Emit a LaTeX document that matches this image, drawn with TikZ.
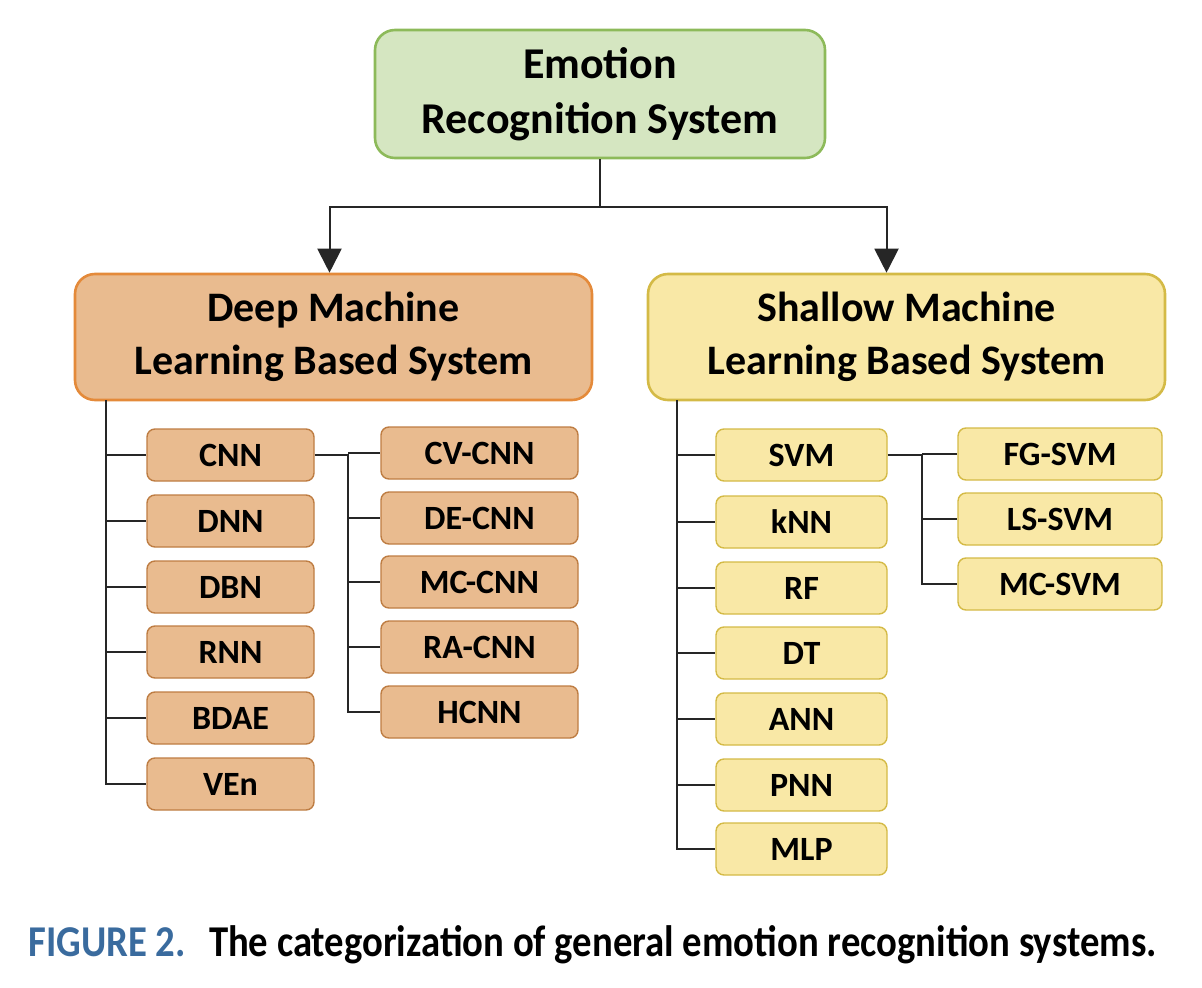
\documentclass[tikz,border=0pt]{standalone}
\usepackage{fontspec}
\setmainfont{Carlito}
\usetikzlibrary{arrows.meta}
\definecolor{rootfill}{RGB}{213,230,193}
\definecolor{rootline}{RGB}{141,186,90}
\definecolor{deepfill}{RGB}{233,187,143}
\definecolor{deepline}{RGB}{228,138,58}
\definecolor{shallowfill}{RGB}{249,232,166}
\definecolor{shallowline}{RGB}{212,186,70}
\definecolor{figblue}{RGB}{58,107,158}
\tikzset{
	rootbox/.style={draw=rootline, fill=rootfill, line width=1.3pt, rounded corners=10pt, align=center, minimum width=225pt, minimum height=64pt, inner sep=0pt, font=\bfseries\fontsize{22}{27.5}\selectfont},
	deepbox/.style={draw=deepline, fill=deepfill, line width=1.3pt, rounded corners=10pt, align=center, minimum width=258.5pt, minimum height=63pt, inner sep=0pt, font=\bfseries\fontsize{21}{26.5}\selectfont},
	shallowbox/.style={deepbox, draw=shallowline, fill=shallowfill},
	deepitem/.style={draw=deepline!80!black!90, fill=deepfill, line width=0.7pt, rounded corners=4pt, minimum width=83.5pt, minimum height=26pt, inner sep=0pt, font=\bfseries\fontsize{17}{20}\selectfont},
	deepsub/.style={deepitem, minimum width=98.5pt},
	shallowitem/.style={deepitem, draw=shallowline, fill=shallowfill, minimum width=85.5pt},
	shallowsub/.style={shallowitem, minimum width=102pt},
	link/.style={draw=black!85, line width=1pt},
	arrow/.style={link, -{Triangle[width=12pt,length=12pt]}}
}
\begin{document}
\begin{tikzpicture}[x=0.5pt, y=-0.5pt]
	\useasboundingbox (0,0) rectangle (1202,988);
	\node [rootbox] (root) at (600,94) {Emotion \\ Recognition System};
	\node [deepbox] (deep) at (333.5,337) {Deep Machine \\ Learning Based System};
	\node [shallowbox] (shallow) at (906.5,337) {Shallow Machine \\ Learning Based System};

	\node [deepitem] (cnn) at (230.5,455) {CNN};
	\node [deepitem] (dnn) at (230.5,521) {DNN};
	\node [deepitem] (dbn) at (230.5,587) {DBN};
	\node [deepitem] (rnn) at (230.5,652) {RNN};
	\node [deepitem] (bdae) at (230.5,718) {BDAE};
	\node [deepitem] (ven) at (230.5,784) {VEn};

	\node [deepsub] (cvcnn) at (479.5,453) {CV-CNN};
	\node [deepsub] (decnn) at (479.5,518) {DE-CNN};
	\node [deepsub] (mccnn) at (479.5,582) {MC-CNN};
	\node [deepsub] (racnn) at (479.5,647) {RA-CNN};
	\node [deepsub] (hcnn) at (479.5,712) {HCNN};

	\node [shallowitem] (svm) at (801.5,455) {SVM};
	\node [shallowitem] (knn) at (801.5,522) {kNN};
	\node [shallowitem] (rf) at (801.5,588) {RF};
	\node [shallowitem] (dt) at (801.5,653) {DT};
	\node [shallowitem] (ann) at (801.5,719) {ANN};
	\node [shallowitem] (pnn) at (801.5,785) {PNN};
	\node [shallowitem] (mlp) at (801.5,849) {MLP};

	\node [shallowsub] (fgsvm) at (1060,454) {FG-SVM};
	\node [shallowsub] (lssvm) at (1060,519) {LS-SVM};
	\node [shallowsub] (mcsvm) at (1060,584) {MC-SVM};

	\draw [link] (root.south) -- (600,207) coordinate (fork);
	\draw [arrow] (fork) -| ([xshift=-2pt]deep.north);
	\draw [arrow] (fork) -| ([xshift=-10pt]shallow.north);

	\coordinate (deeptrunk) at (106,400);
	\draw [link] (deeptrunk) |- (ven.west);
	\draw [link] (deeptrunk |- cnn.west) -- (cnn.west);
	\draw [link] (deeptrunk |- dnn.west) -- (dnn.west);
	\draw [link] (deeptrunk |- dbn.west) -- (dbn.west);
	\draw [link] (deeptrunk |- rnn.west) -- (rnn.west);
	\draw [link] (deeptrunk |- bdae.west) -- (bdae.west);

	\coordinate (cnnbus) at (348,455);
	\draw [link] (cnn.east) -- (cnnbus) |- (hcnn.west);
	\draw [link] (cnnbus |- cvcnn.west) -- (cvcnn.west);
	\draw [link] (cnnbus |- decnn.west) -- (decnn.west);
	\draw [link] (cnnbus |- mccnn.west) -- (mccnn.west);
	\draw [link] (cnnbus |- racnn.west) -- (racnn.west);

	\coordinate (shallowtrunk) at (677,400);
	\draw [link] (shallowtrunk) |- (mlp.west);
	\draw [link] (shallowtrunk |- svm.west) -- (svm.west);
	\draw [link] (shallowtrunk |- knn.west) -- (knn.west);
	\draw [link] (shallowtrunk |- rf.west) -- (rf.west);
	\draw [link] (shallowtrunk |- dt.west) -- (dt.west);
	\draw [link] (shallowtrunk |- ann.west) -- (ann.west);
	\draw [link] (shallowtrunk |- pnn.west) -- (pnn.west);

	\coordinate (svmbus) at (922,455);
	\draw [link] (svm.east) -- (svmbus) |- (mcsvm.west);
	\draw [link] (svmbus |- fgsvm.west) -- (fgsvm.west);
	\draw [link] (svmbus |- lssvm.west) -- (lssvm.west);

	\node [anchor=base west, inner sep=0pt, transform shape, xscale=0.88, font=\bfseries\fontsize{22}{24}\selectfont] (caption) at (28,956) {\textcolor{figblue}{FIGURE 2.}\hspace{0.6em}The categorization of general emotion recognition systems.};
\end{tikzpicture}
\end{document}
